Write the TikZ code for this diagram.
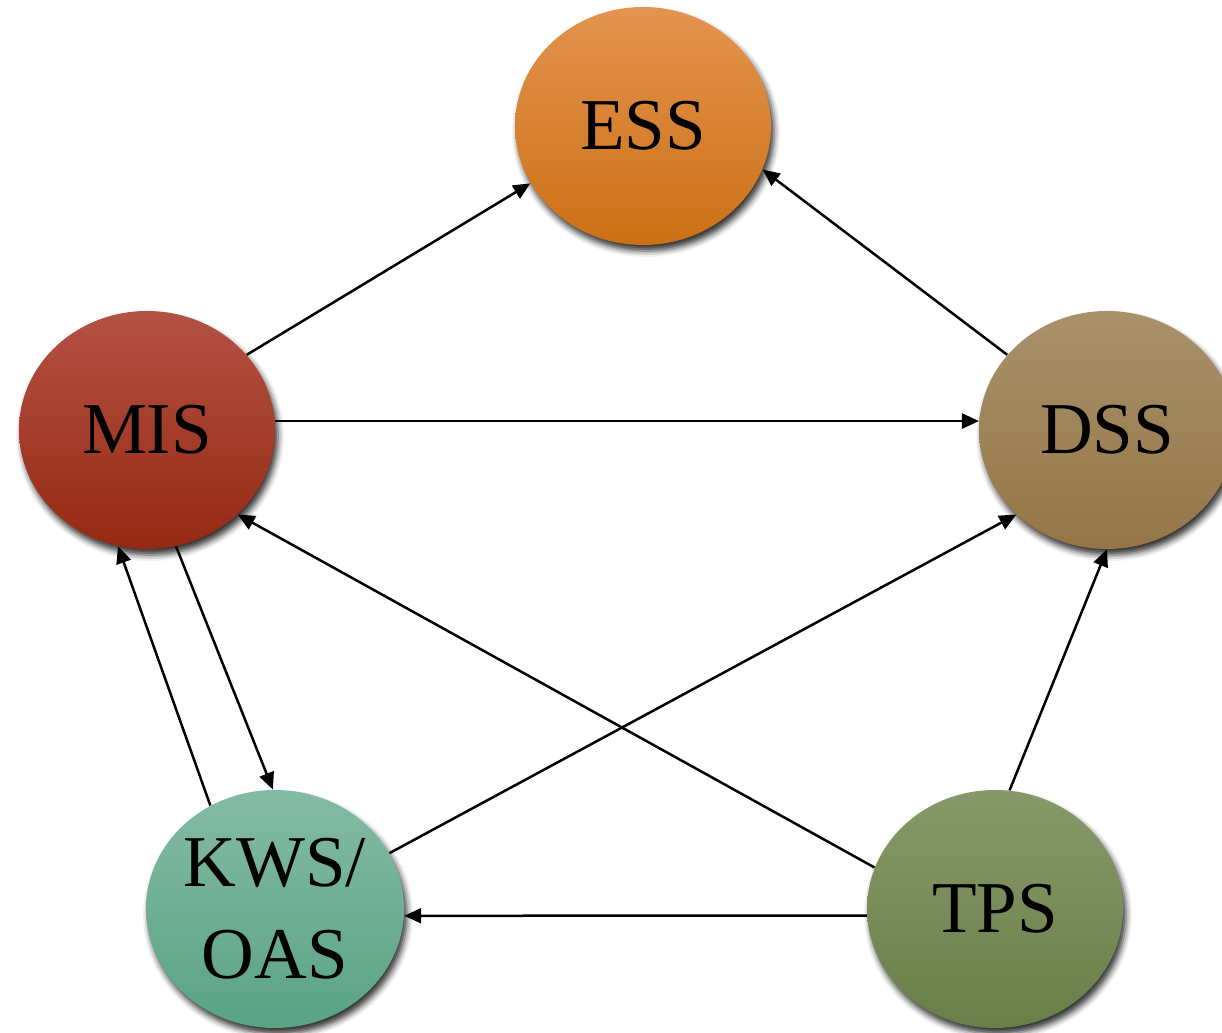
\documentclass[tikz,border=0pt]{standalone}
\usepackage{fontspec}
\setmainfont{Liberation Serif}
\usetikzlibrary{arrows.meta,shapes.geometric,shadows.blur}
\begin{document}
\begin{tikzpicture}[x=0.5pt,y=0.5pt,
  sys/.style={ellipse,minimum width=128pt,minimum height=119pt,inner sep=0pt,
    font=\fontsize{36.5}{46}\selectfont,align=center,
    blur shadow={shadow xshift=1.5pt,shadow yshift=-3pt,shadow blur radius=3pt,shadow opacity=80}},
  link/.style={line width=1.25pt,-{Triangle[length=8.5pt,width=7.5pt]}}]
\definecolor{essT}{HTML}{E49450}\definecolor{essB}{HTML}{CB7014}
\definecolor{misT}{HTML}{B45244}\definecolor{misB}{HTML}{952913}
\definecolor{dssT}{HTML}{A9916B}\definecolor{dssB}{HTML}{947646}
\definecolor{kwsT}{HTML}{83BBA3}\definecolor{kwsB}{HTML}{5AA385}
\definecolor{tpsT}{HTML}{889969}\definecolor{tpsB}{HTML}{697E48}
\useasboundingbox (0,0) rectangle (1222,1033);
\begin{scope}
\clip (0,0) rectangle (1222,1033);
\node[sys,top color=essT,bottom color=essB] (ess) at (643,907) {ESS};
\node[sys,top color=misT,bottom color=misB] (mis) at (147,603) {MIS};
\node[sys,top color=dssT,bottom color=dssB] (dss) at (1107,603) {DSS};
\node[sys,top color=kwsT,bottom color=kwsB] (kws) at (275,124) {KWS/\\OAS};
\node[sys,top color=tpsT,bottom color=tpsB] (tps) at (995,124) {TPS};
\end{scope}
\draw[link] (mis.37) -- (ess.207);
\draw[link] (dss.143) -- (ess.340);
\draw[link] (mis.4) -- (dss.176);
\draw[link] (tps.161) -- (mis.317);
\draw[link] (kws.26) -- (dss.223);
\draw[link] (tps.83) -- (dss.south);
\draw[link] (kws.122) -- (mis.256);
\draw[link] (mis.284) -- (kws.91);
\draw[link] (tps.183) -- (kws.357);
\end{tikzpicture}
\end{document}
